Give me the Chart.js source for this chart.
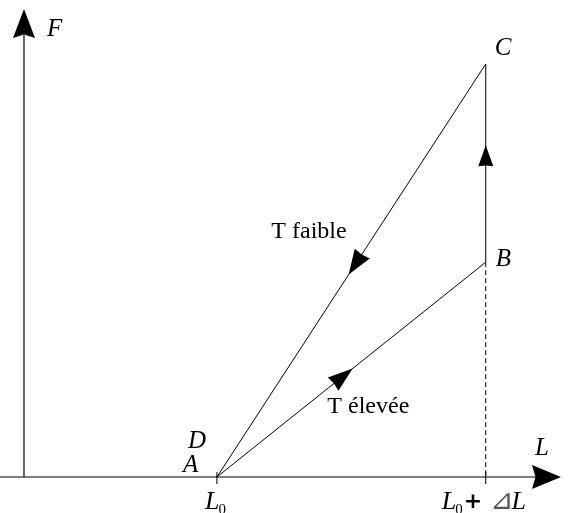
<!DOCTYPE html>
<html><head><meta charset="utf-8">
<script src="https://cdn.jsdelivr.net/npm/chart.js@4"></script>
<style>html,body{margin:0;padding:0;background:#fff}canvas{display:block}</style>
</head><body>
<canvas id="c" width="569" height="513"></canvas>
<script>
// Cycle points A -> B -> C -> D(=A)
const pointNames = ['A', 'B', 'C', 'D'];
const lengthValues = [3.71, 8.88, 8.88, 3.71];
const forceValues = [0, 4.65, 8.94, 0];
const tickValues = [3.71, 8.88];
const curveLabels = ['T élevée', 'T faible'];
const axisNames = ['L', 'F'];
const arrowFractions = [0.505, 0.59, 0.51]; // along A->B, B->C, C->D

const P = i => ({ x: lengthValues[i], y: forceValues[i] });
const serif = '"Liberation Serif","Times New Roman",serif';

const seg = (a, b) => ({
  data: [P(a), P(b)], showLine: true, borderColor: '#000', borderWidth: 1,
  pointRadius: 0, fill: false, tension: 0
});

const datasets = [
  seg(0, 1), seg(1, 2), seg(2, 3),
  { data: [P(1), { x: lengthValues[1], y: 0 }], showLine: true, borderColor: '#000',
    borderWidth: 1, borderDash: [5, 3], pointRadius: 0 }
];

function tri(ctx, tx, ty, dx, dy, len, hw, notch) {
  const n = Math.hypot(dx, dy); const ux = dx / n, uy = dy / n;
  const bx = tx - ux * len, by = ty - uy * len;
  ctx.beginPath();
  ctx.moveTo(tx, ty);
  ctx.lineTo(bx - uy * hw, by + ux * hw);
  ctx.lineTo(bx + ux * len * notch, by + uy * len * notch);
  ctx.lineTo(bx + uy * hw, by - ux * hw);
  ctx.closePath();
  ctx.fill();
}

const decor = {
  id: 'decor',
  afterDraw(chart) {
    const ctx = chart.ctx, xs = chart.scales.x, ys = chart.scales.y;
    const px = i => xs.getPixelForValue(lengthValues[i]);
    const py = i => ys.getPixelForValue(forceValues[i]);
    const x0 = xs.getPixelForValue(0), y0 = ys.getPixelForValue(0);
    ctx.save();
    ctx.strokeStyle = '#000'; ctx.fillStyle = '#000'; ctx.lineWidth = 1.2;
    // axes
    ctx.beginPath();
    ctx.moveTo(0, y0); ctx.lineTo(xs.right - 6, y0);
    ctx.moveTo(x0, y0); ctx.lineTo(x0, ys.top + 20);
    ctx.stroke();
    tri(ctx, xs.right + 17, y0, 1, 0, 29, 12, 0.12);
    tri(ctx, x0, ys.top - 6, 0, -1, 29, 11, 0.12);
    // ticks
    ctx.lineWidth = 1;
    tickValues.forEach(v => {
      const tx = xs.getPixelForValue(v);
      ctx.beginPath(); ctx.moveTo(tx, y0 - 5); ctx.lineTo(tx, y0 + 7); ctx.stroke();
    });
    // arrows along path
    const segs = [[0, 1, 25, 8.5], [1, 2, 21, 7.5], [2, 3, 25, 9]];
    segs.forEach(([a, b, len, hw], k) => {
      const t = arrowFractions[k];
      const ax = px(a), ay = py(a), bx = px(b), by = py(b);
      tri(ctx, ax + (bx - ax) * t, ay + (by - ay) * t, bx - ax, by - ay, len, hw, 0.04);
    });
    // text
    ctx.textBaseline = 'alphabetic'; ctx.textAlign = 'left';
    const it = '24px ' + serif;
    ctx.font = 'italic 25px ' + serif;
    ctx.fillText(axisNames[1], x0 + 23, ys.top + 21);
    ctx.fillText(axisNames[0], xs.right - 9, y0 - 22);
    ctx.fillText(pointNames[2], px(2) + 9, py(2) - 9);
    ctx.fillText(pointNames[1], px(1) + 10, py(1) + 4);
    ctx.fillText(pointNames[3], px(0) - 29, py(0) - 29);
    ctx.fillText(pointNames[0], px(0) - 34, py(0) - 5);
    // curve labels
    ctx.font = it;
    const mAB = [(px(0) + px(1)) / 2, (py(0) + py(1)) / 2];
    const mCD = [(px(2) + px(3)) / 2, (py(2) + py(3)) / 2];
    ctx.fillText(curveLabels[0], mAB[0] - 24, mAB[1] + 43);
    ctx.fillText(curveLabels[1], mCD[0] - 80, mCD[1] - 32);
    // tick labels
    const sub = (x, y) => {
      ctx.font = 'italic 26px ' + serif; ctx.fillText('L', x, y);
      let w = ctx.measureText('L').width;
      ctx.font = '15px ' + serif; ctx.fillText('0', x + w - 1, y + 5);
      return x + w - 1 + ctx.measureText('0').width;
    };
    const t0 = xs.getPixelForValue(tickValues[0]);
    sub(t0 - 12, y0 + 32);
    const t1 = xs.getPixelForValue(tickValues[1]);
    let cx = sub(t1 - 44, y0 + 32);
    ctx.font = 'bold 22px "DejaVu Sans",sans-serif';
    ctx.fillText('+', cx + 1, y0 + 31);
    cx += 1 + ctx.measureText('+').width + 8;
    ctx.font = '28px "DejaVu Sans",sans-serif';
    ctx.fillStyle = '#555';
    ctx.fillText('⊿', cx, y0 + 32);
    cx += ctx.measureText('⊿').width - 2;
    ctx.fillStyle = '#000';
    ctx.font = 'italic 26px ' + serif;
    ctx.fillText('L', cx, y0 + 32);
    ctx.restore();
  }
};

new Chart(document.getElementById('c'), {
  type: 'scatter',
  data: { datasets },
  options: {
    responsive: false, devicePixelRatio: 1, animation: false,
    layout: { padding: { left: 24, right: 25, top: 15, bottom: 36 } },
    plugins: { legend: { display: false }, tooltip: { enabled: false } },
    scales: {
      x: { type: 'linear', min: 0, max: 10, display: false },
      y: { type: 'linear', min: 0, max: 10, display: false }
    },
    elements: { line: { borderCapStyle: 'butt' } },
    clip: false
  },
  plugins: [decor]
});
</script>
</body></html>
